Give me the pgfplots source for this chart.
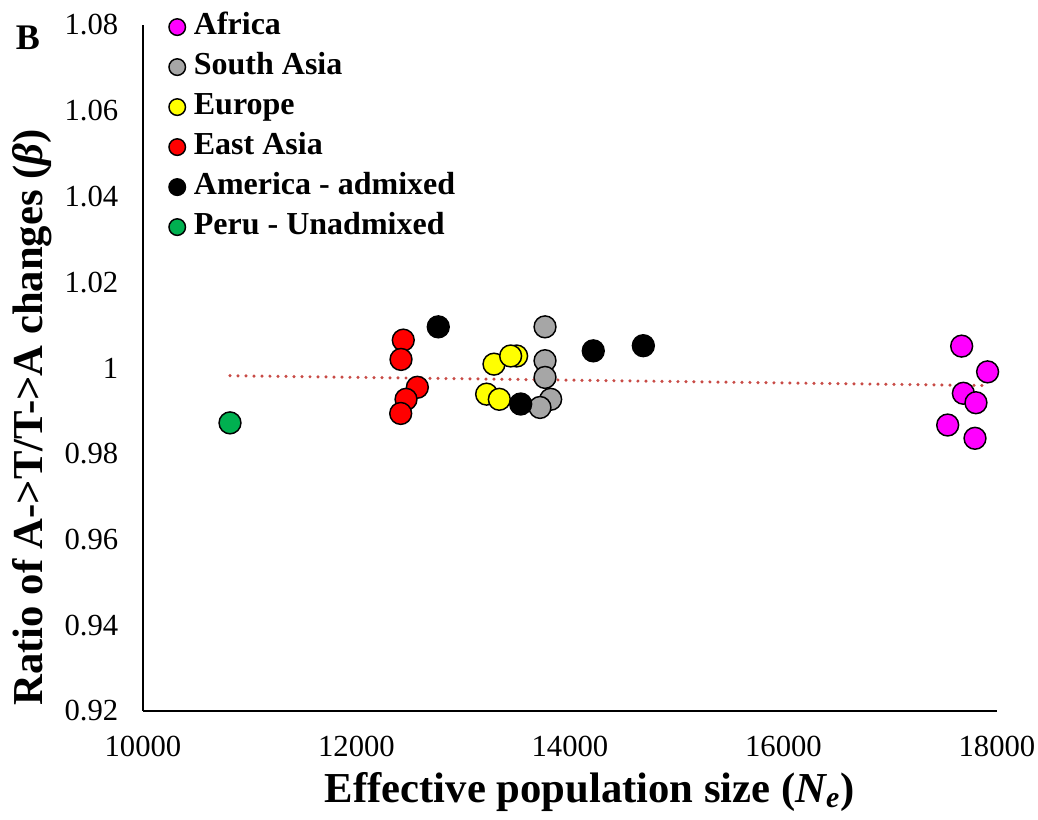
\documentclass[border=0pt]{standalone}
\usepackage{fontspec}
\setmainfont{Liberation Serif}
\usepackage{pgfplots}
\pgfplotsset{compat=1.18}
\definecolor{cAfr}{RGB}{255,0,255}
\definecolor{cSA}{RGB}{166,166,166}
\definecolor{cEur}{RGB}{255,255,0}
\definecolor{cEA}{RGB}{255,0,0}
\definecolor{cAm}{RGB}{0,0,0}
\definecolor{cPeru}{RGB}{0,176,80}
\definecolor{cTrend}{RGB}{200,75,70}

\pgfplotstableread{
x y
17669 1.0051
17912 0.9991
17685 0.9941
17803 0.9919
17538 0.9867
17794 0.9836
}\africa
\pgfplotstableread{
x y
13766 1.0096
13766 1.0017
13766 0.9978
13819 0.9927
13719 0.9908
}\southasia
\pgfplotstableread{
x y
13288 1.0009
13500 1.0028
13444 1.0028
13219 0.9939
13338 0.9927
}\europe
\pgfplotstableread{
x y
12438 1.0065
12417 1.0020
12570 0.9955
12464 0.9927
12414 0.9894
}\eastasia
\pgfplotstableread{
x y
12766 1.0096
13538 0.9916
14218 1.0040
14687 1.0052
}\america
\pgfplotstableread{
x y
10815 0.9872
}\peru

\begin{document}
\begin{tikzpicture}
\begin{axis}[name=ax, at={(0,0)}, anchor=south west,
  width=640.5pt, height=514.5pt, scale only axis,
  xmin=10000, xmax=18000, ymin=0.92, ymax=1.08,
  axis x line*=bottom, axis y line*=left,
  axis line style={line width=1.1pt, black},
  xtick={10000,12000,14000,16000,18000},
  xticklabels={10000,12000,14000,16000,18000},
  ytick={0.92,0.94,0.96,0.98,1,1.02,1.04,1.06,1.08},
  yticklabels={0.92,0.94,0.96,0.98,1,1.02,1.04,1.06,1.08},
  scaled x ticks=false, scaled y ticks=false,
  major tick length=0pt,
  tick label style={font=\fontsize{23}{23}\selectfont},
  xticklabel style={yshift=-15pt},
  yticklabel style={xshift=-15pt},
  xlabel={\textbf{Effective population size (\textit{N\textsubscript{e}})}},
  ylabel={\textbf{Ratio of A->T/T->A changes (\textit{β})}},
  label style={font=\fontsize{32}{32}\selectfont},
  xlabel style={at={(axis description cs:0.523,-0.1327)}, anchor=base},
  ylabel style={at={(axis description cs:-0.130,0.428)}, anchor=center},
  clip=false,
  legend style={at={(axis description cs:0.029,1.0216)}, anchor=north west,
    draw=none, fill=none, inner sep=0pt,
    font=\bfseries\fontsize{24}{24}\selectfont,
    nodes={inner sep=1pt, text height=17pt, text depth=6pt},
    row sep=5pt},
  legend cell align=left,
  legend image code/.code={\path[draw=none, fill=none] (-6.9pt,0pt) -- (11.5pt,0pt);\draw[#1, mark size=6.2pt, line width=0.9pt] plot coordinates {(0pt,0pt)};},
]
\addplot[only marks, mark=*, mark size=8.2pt, mark options={draw=black, fill=cAfr, line width=1.1pt}] table[x=x,y=y] {\africa};
\addlegendentry{Africa}
\addplot[only marks, mark=*, mark size=8.2pt, mark options={draw=black, fill=cSA, line width=1.1pt}] table[x=x,y=y] {\southasia};
\addlegendentry{South Asia}
\addplot[only marks, mark=*, mark size=8.2pt, mark options={draw=black, fill=cEur, line width=1.1pt}] table[x=x,y=y] {\europe};
\addlegendentry{Europe}
\addplot[only marks, mark=*, mark size=8.2pt, mark options={draw=black, fill=cEA, line width=1.1pt}] table[x=x,y=y] {\eastasia};
\addlegendentry{East Asia}
\addplot[only marks, mark=*, mark size=8.2pt, mark options={draw=black, fill=cAm, line width=1.1pt}] table[x=x,y=y] {\america};
\addlegendentry{America - admixed}
\addplot[only marks, mark=*, mark size=8.2pt, mark options={draw=black, fill=cPeru, line width=1.1pt}] table[x=x,y=y] {\peru};
\addlegendentry{Peru - Unadmixed}
\addplot[forget plot, cTrend, line width=2.6pt, line cap=round, dash pattern=on 0pt off 6pt] coordinates {(10815,0.9982) (17912,0.9959)};
\node[font=\bfseries\fontsize{27}{27}\selectfont] at (axis description cs:-0.1347,0.981) {B};
\end{axis}
\pgfresetboundingbox
\path[use as bounding box] (ax.south west) ++(-107.25pt,-81.75pt) rectangle ++(778.5pt,615pt);
\end{tikzpicture}
\end{document}
